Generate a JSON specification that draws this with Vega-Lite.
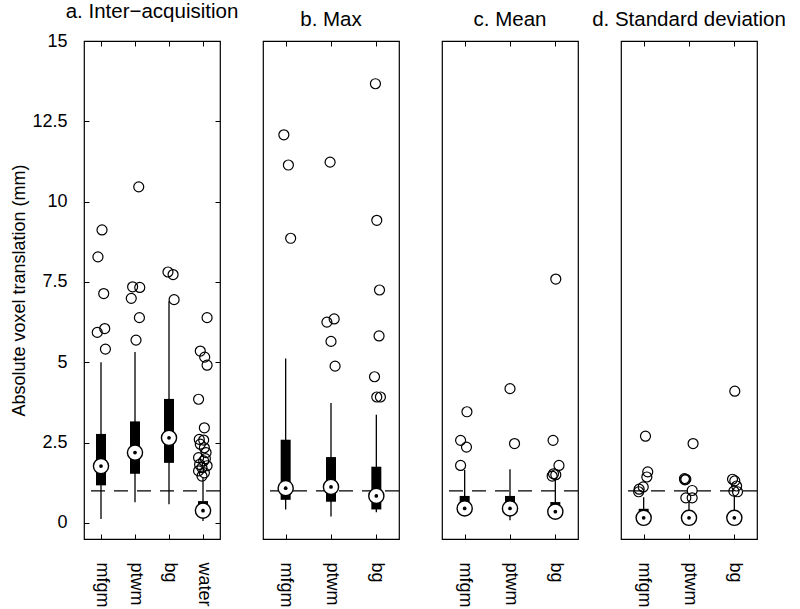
{
  "$schema": "https://vega.github.io/schema/vega-lite/v6.json",
  "background": "white",
  "padding": {"left": 10, "top": 0, "right": 5, "bottom": 5},
  "bounds": "flush",
  "spacing": 43,
  "config": {
    "font": "Liberation Sans",
    "view": {"stroke": "black", "strokeWidth": 1.2},
    "axis": {"labelFontSize": 18, "labelColor": "black", "labelFont": "Liberation Sans", "tickColor": "black", "tickSize": -5, "tickWidth": 1, "grid": false, "domain": false, "titleFont": "Liberation Sans", "titleFontSize": 18, "titleFontWeight": "normal", "titleColor": "black", "labelPadding": 22},
    "axisX": {"labelPadding": 28},
    "title": {"fontSize": 20.5, "fontWeight": "normal", "font": "Liberation Sans", "color": "black", "offset": 10}
  },
  "datasets": {
    "ref": [{"panel": "a", "y": 1}, {"panel": "b", "y": 1}, {"panel": "c", "y": 1}, {"panel": "d", "y": 1}],
    "boxes": [
      {"panel": "a", "group": "mfgm", "g": 1, "lo": 0.12, "q1": 1.17, "med": 1.77, "q3": 2.77, "hi": 5.0},
      {"panel": "a", "group": "ptwm", "g": 2, "lo": 0.64, "q1": 1.53, "med": 2.19, "q3": 3.16, "hi": 5.32},
      {"panel": "a", "group": "bg", "g": 3, "lo": 0.58, "q1": 1.87, "med": 2.65, "q3": 3.86, "hi": 6.9},
      {"panel": "a", "group": "water", "g": 4, "lo": 0.06, "q1": 0.25, "med": 0.38, "q3": 0.68, "hi": 1.4},
      {"panel": "b", "group": "mfgm", "g": 1, "lo": 0.42, "q1": 0.72, "med": 1.08, "q3": 2.59, "hi": 5.12},
      {"panel": "b", "group": "ptwm", "g": 2, "lo": 0.2, "q1": 0.66, "med": 1.12, "q3": 2.05, "hi": 3.73},
      {"panel": "b", "group": "bg", "g": 3, "lo": 0.33, "q1": 0.42, "med": 0.84, "q3": 1.75, "hi": 3.37},
      {"panel": "c", "group": "mfgm", "g": 1, "lo": 0.25, "q1": 0.3, "med": 0.45, "q3": 0.84, "hi": 1.65},
      {"panel": "c", "group": "ptwm", "g": 2, "lo": 0.08, "q1": 0.3, "med": 0.45, "q3": 0.84, "hi": 1.67},
      {"panel": "c", "group": "bg", "g": 3, "lo": 0.2, "q1": 0.25, "med": 0.35, "q3": 0.65, "hi": 1.41},
      {"panel": "d", "group": "mfgm", "g": 1, "lo": 0.1, "q1": 0.12, "med": 0.16, "q3": 0.44, "hi": 0.8},
      {"panel": "d", "group": "ptwm", "g": 2, "lo": 0.1, "q1": 0.12, "med": 0.16, "q3": 0.3, "hi": 0.7},
      {"panel": "d", "group": "bg", "g": 3, "lo": 0.1, "q1": 0.12, "med": 0.16, "q3": 0.3, "hi": 0.84}
    ],
    "outliers": [
      {"panel": "a", "x": 1.03, "v": 9.12}, {"panel": "a", "x": 0.91, "v": 8.28}, {"panel": "a", "x": 1.08, "v": 7.14}, {"panel": "a", "x": 1.11, "v": 6.05}, {"panel": "a", "x": 0.89, "v": 5.93}, {"panel": "a", "x": 1.13, "v": 5.41},
      {"panel": "a", "x": 2.11, "v": 10.46}, {"panel": "a", "x": 1.93, "v": 7.35}, {"panel": "a", "x": 2.14, "v": 7.33}, {"panel": "a", "x": 1.89, "v": 6.99}, {"panel": "a", "x": 2.13, "v": 6.39}, {"panel": "a", "x": 2.03, "v": 5.69},
      {"panel": "a", "x": 2.97, "v": 7.81}, {"panel": "a", "x": 3.12, "v": 7.73}, {"panel": "a", "x": 3.15, "v": 6.95},
      {"panel": "a", "x": 4.12, "v": 6.39}, {"panel": "a", "x": 3.92, "v": 5.35}, {"panel": "a", "x": 4.05, "v": 5.16}, {"panel": "a", "x": 4.12, "v": 4.91}, {"panel": "a", "x": 3.87, "v": 3.85}, {"panel": "a", "x": 4.04, "v": 2.96}, {"panel": "a", "x": 3.89, "v": 2.6}, {"panel": "a", "x": 4.02, "v": 2.58}, {"panel": "a", "x": 3.92, "v": 2.45}, {"panel": "a", "x": 4.04, "v": 2.34}, {"panel": "a", "x": 4.09, "v": 2.19}, {"panel": "a", "x": 3.87, "v": 2.03}, {"panel": "a", "x": 4.07, "v": 2.0}, {"panel": "a", "x": 4.02, "v": 1.93}, {"panel": "a", "x": 3.9, "v": 1.82}, {"panel": "a", "x": 4.12, "v": 1.78}, {"panel": "a", "x": 3.97, "v": 1.72}, {"panel": "a", "x": 3.87, "v": 1.62}, {"panel": "a", "x": 4.04, "v": 1.56}, {"panel": "a", "x": 3.97, "v": 1.46},
      {"panel": "b", "x": 0.96, "v": 12.08}, {"panel": "b", "x": 1.06, "v": 11.14}, {"panel": "b", "x": 1.11, "v": 8.86},
      {"panel": "b", "x": 1.98, "v": 11.23}, {"panel": "b", "x": 2.07, "v": 6.35}, {"panel": "b", "x": 1.91, "v": 6.25}, {"panel": "b", "x": 2.0, "v": 5.65}, {"panel": "b", "x": 2.09, "v": 4.88},
      {"panel": "b", "x": 2.98, "v": 13.67}, {"panel": "b", "x": 3.01, "v": 9.42}, {"panel": "b", "x": 3.07, "v": 7.25}, {"panel": "b", "x": 3.06, "v": 5.82}, {"panel": "b", "x": 2.96, "v": 4.55}, {"panel": "b", "x": 3.01, "v": 3.92}, {"panel": "b", "x": 3.09, "v": 3.92},
      {"panel": "c", "x": 1.05, "v": 3.46}, {"panel": "c", "x": 0.91, "v": 2.57}, {"panel": "c", "x": 1.04, "v": 2.36}, {"panel": "c", "x": 0.91, "v": 1.79},
      {"panel": "c", "x": 2.0, "v": 4.18}, {"panel": "c", "x": 2.1, "v": 2.47},
      {"panel": "c", "x": 3.01, "v": 7.59}, {"panel": "c", "x": 2.95, "v": 2.57}, {"panel": "c", "x": 3.08, "v": 1.79}, {"panel": "c", "x": 2.96, "v": 1.53}, {"panel": "c", "x": 3.01, "v": 1.5}, {"panel": "c", "x": 2.93, "v": 1.46},
      {"panel": "d", "x": 1.04, "v": 2.7}, {"panel": "d", "x": 1.09, "v": 1.59}, {"panel": "d", "x": 1.07, "v": 1.43}, {"panel": "d", "x": 0.99, "v": 1.12}, {"panel": "d", "x": 0.9, "v": 1.05}, {"panel": "d", "x": 0.89, "v": 0.97},
      {"panel": "d", "x": 2.09, "v": 2.47}, {"panel": "d", "x": 1.9, "v": 1.38}, {"panel": "d", "x": 1.93, "v": 1.36}, {"panel": "d", "x": 1.91, "v": 1.34}, {"panel": "d", "x": 2.07, "v": 1.01}, {"panel": "d", "x": 1.93, "v": 0.78}, {"panel": "d", "x": 2.07, "v": 0.78},
      {"panel": "d", "x": 3.01, "v": 4.1}, {"panel": "d", "x": 2.96, "v": 1.36}, {"panel": "d", "x": 3.01, "v": 1.31}, {"panel": "d", "x": 3.05, "v": 1.15}, {"panel": "d", "x": 2.99, "v": 0.99}, {"panel": "d", "x": 3.07, "v": 0.97}
    ]
  },
  "resolve": {"scale": {"x": "independent", "y": "independent"}, "axis": {"x": "independent", "y": "independent"}},
  "hconcat": [
    {
      "width": 136, "height": 498,
      "title": "a. Inter−acquisition",
      "resolve": {"axis": {"x": "independent", "y": "independent"}},
      "layer": [
        {"data": {"name": "ref"}, "transform": [{"filter": "datum.panel == 'a'"}],
         "mark": {"type": "rule", "strokeDash": [14, 9], "strokeWidth": 1.2, "color": "black"},
         "encoding": {"y": {"field": "y", "type": "quantitative", "scale": {"domain": [-0.5, 15], "nice": false, "zero": false}, "axis": null}}},
        {"data": {"name": "boxes"}, "transform": [{"filter": "datum.panel == 'a'"}],
         "mark": {"type": "rule", "strokeWidth": 1.3, "color": "black"},
         "encoding": {
           "x": {"field": "g", "type": "quantitative", "scale": {"domain": [0.5, 4.5], "nice": false, "zero": false}, "axis": {"orient": "bottom", "values": [1, 2, 3, 4], "labelExpr": "['', 'mfgm', 'ptwm', 'bg', 'water'][datum.value]", "labelAngle": 90, "title": null}},
           "y": {"field": "lo", "type": "quantitative", "scale": {"domain": [-0.5, 15], "nice": false, "zero": false}, "axis": {"orient": "left", "values": [0, 2.5, 5, 7.5, 10, 12.5, 15], "format": ".1~f", "title": "Absolute voxel translation (mm)", "titlePadding": 3}},
           "y2": {"field": "hi"}}},
        {"data": {"name": "boxes"}, "transform": [{"filter": "datum.panel == 'a'"}],
         "mark": {"type": "rule", "strokeWidth": 10, "color": "black"},
         "encoding": {
           "x": {"field": "g", "type": "quantitative", "axis": {"orient": "top", "values": [1, 2, 3, 4], "labels": false, "title": null}},
           "y": {"field": "q1", "type": "quantitative", "axis": {"orient": "right", "values": [0, 2.5, 5, 7.5, 10, 12.5, 15], "labels": false, "title": null}},
           "y2": {"field": "q3"}}},
        {"data": {"name": "boxes"}, "transform": [{"filter": "datum.panel == 'a'"}],
         "mark": {"type": "point", "shape": "circle", "filled": true, "fill": "white", "stroke": "black", "strokeWidth": 1.4, "size": 230, "opacity": 1},
         "encoding": {"x": {"field": "g", "type": "quantitative", "axis": null}, "y": {"field": "med", "type": "quantitative", "axis": null}}},
        {"data": {"name": "boxes"}, "transform": [{"filter": "datum.panel == 'a'"}],
         "mark": {"type": "point", "shape": "circle", "filled": true, "color": "black", "size": 14, "opacity": 1},
         "encoding": {"x": {"field": "g", "type": "quantitative", "axis": null}, "y": {"field": "med", "type": "quantitative", "axis": null}}},
        {"data": {"name": "outliers"}, "transform": [{"filter": "datum.panel == 'a'"}],
         "mark": {"type": "point", "shape": "circle", "filled": false, "color": "black", "strokeWidth": 1.2, "size": 100, "opacity": 1},
         "encoding": {"x": {"field": "x", "type": "quantitative", "axis": null}, "y": {"field": "v", "type": "quantitative", "axis": null}}}
      ]
    },
    {
      "width": 136, "height": 498,
      "title": "b. Max",
      "resolve": {"axis": {"x": "independent", "y": "independent"}},
      "layer": [
        {"data": {"name": "ref"}, "transform": [{"filter": "datum.panel == 'b'"}],
         "mark": {"type": "rule", "strokeDash": [14, 9], "strokeWidth": 1.2, "color": "black"},
         "encoding": {"y": {"field": "y", "type": "quantitative", "scale": {"domain": [-0.5, 15], "nice": false, "zero": false}, "axis": null}}},
        {"data": {"name": "boxes"}, "transform": [{"filter": "datum.panel == 'b'"}],
         "mark": {"type": "rule", "strokeWidth": 1.3, "color": "black"},
         "encoding": {
           "x": {"field": "g", "type": "quantitative", "scale": {"domain": [0.5, 3.5], "nice": false, "zero": false}, "axis": {"orient": "bottom", "values": [1, 2, 3], "labelExpr": "['', 'mfgm', 'ptwm', 'bg'][datum.value]", "labelAngle": 90, "title": null}},
           "y": {"field": "lo", "type": "quantitative", "scale": {"domain": [-0.5, 15], "nice": false, "zero": false}, "axis": null},
           "y2": {"field": "hi"}}},
        {"data": {"name": "boxes"}, "transform": [{"filter": "datum.panel == 'b'"}],
         "mark": {"type": "rule", "strokeWidth": 10, "color": "black"},
         "encoding": {
           "x": {"field": "g", "type": "quantitative", "axis": {"orient": "top", "values": [1, 2, 3], "labels": false, "title": null}},
           "y": {"field": "q1", "type": "quantitative", "axis": null},
           "y2": {"field": "q3"}}},
        {"data": {"name": "boxes"}, "transform": [{"filter": "datum.panel == 'b'"}],
         "mark": {"type": "point", "shape": "circle", "filled": true, "fill": "white", "stroke": "black", "strokeWidth": 1.4, "size": 230, "opacity": 1},
         "encoding": {"x": {"field": "g", "type": "quantitative", "axis": null}, "y": {"field": "med", "type": "quantitative", "axis": null}}},
        {"data": {"name": "boxes"}, "transform": [{"filter": "datum.panel == 'b'"}],
         "mark": {"type": "point", "shape": "circle", "filled": true, "color": "black", "size": 14, "opacity": 1},
         "encoding": {"x": {"field": "g", "type": "quantitative", "axis": null}, "y": {"field": "med", "type": "quantitative", "axis": null}}},
        {"data": {"name": "outliers"}, "transform": [{"filter": "datum.panel == 'b'"}],
         "mark": {"type": "point", "shape": "circle", "filled": false, "color": "black", "strokeWidth": 1.2, "size": 100, "opacity": 1},
         "encoding": {"x": {"field": "x", "type": "quantitative", "axis": null}, "y": {"field": "v", "type": "quantitative", "axis": null}}}
      ]
    },
    {
      "width": 136, "height": 498,
      "title": "c. Mean",
      "resolve": {"axis": {"x": "independent", "y": "independent"}},
      "layer": [
        {"data": {"name": "ref"}, "transform": [{"filter": "datum.panel == 'c'"}],
         "mark": {"type": "rule", "strokeDash": [14, 9], "strokeWidth": 1.2, "color": "black"},
         "encoding": {"y": {"field": "y", "type": "quantitative", "scale": {"domain": [-0.5, 15], "nice": false, "zero": false}, "axis": null}}},
        {"data": {"name": "boxes"}, "transform": [{"filter": "datum.panel == 'c'"}],
         "mark": {"type": "rule", "strokeWidth": 1.3, "color": "black"},
         "encoding": {
           "x": {"field": "g", "type": "quantitative", "scale": {"domain": [0.5, 3.5], "nice": false, "zero": false}, "axis": {"orient": "bottom", "values": [1, 2, 3], "labelExpr": "['', 'mfgm', 'ptwm', 'bg'][datum.value]", "labelAngle": 90, "title": null}},
           "y": {"field": "lo", "type": "quantitative", "scale": {"domain": [-0.5, 15], "nice": false, "zero": false}, "axis": null},
           "y2": {"field": "hi"}}},
        {"data": {"name": "boxes"}, "transform": [{"filter": "datum.panel == 'c'"}],
         "mark": {"type": "rule", "strokeWidth": 10, "color": "black"},
         "encoding": {
           "x": {"field": "g", "type": "quantitative", "axis": {"orient": "top", "values": [1, 2, 3], "labels": false, "title": null}},
           "y": {"field": "q1", "type": "quantitative", "axis": null},
           "y2": {"field": "q3"}}},
        {"data": {"name": "boxes"}, "transform": [{"filter": "datum.panel == 'c'"}],
         "mark": {"type": "point", "shape": "circle", "filled": true, "fill": "white", "stroke": "black", "strokeWidth": 1.4, "size": 230, "opacity": 1},
         "encoding": {"x": {"field": "g", "type": "quantitative", "axis": null}, "y": {"field": "med", "type": "quantitative", "axis": null}}},
        {"data": {"name": "boxes"}, "transform": [{"filter": "datum.panel == 'c'"}],
         "mark": {"type": "point", "shape": "circle", "filled": true, "color": "black", "size": 14, "opacity": 1},
         "encoding": {"x": {"field": "g", "type": "quantitative", "axis": null}, "y": {"field": "med", "type": "quantitative", "axis": null}}},
        {"data": {"name": "outliers"}, "transform": [{"filter": "datum.panel == 'c'"}],
         "mark": {"type": "point", "shape": "circle", "filled": false, "color": "black", "strokeWidth": 1.2, "size": 100, "opacity": 1},
         "encoding": {"x": {"field": "x", "type": "quantitative", "axis": null}, "y": {"field": "v", "type": "quantitative", "axis": null}}}
      ]
    },
    {
      "width": 136, "height": 498,
      "title": "d. Standard deviation",
      "resolve": {"axis": {"x": "independent", "y": "independent"}},
      "layer": [
        {"data": {"name": "ref"}, "transform": [{"filter": "datum.panel == 'd'"}],
         "mark": {"type": "rule", "strokeDash": [14, 9], "strokeWidth": 1.2, "color": "black"},
         "encoding": {"y": {"field": "y", "type": "quantitative", "scale": {"domain": [-0.5, 15], "nice": false, "zero": false}, "axis": null}}},
        {"data": {"name": "boxes"}, "transform": [{"filter": "datum.panel == 'd'"}],
         "mark": {"type": "rule", "strokeWidth": 1.3, "color": "black"},
         "encoding": {
           "x": {"field": "g", "type": "quantitative", "scale": {"domain": [0.5, 3.5], "nice": false, "zero": false}, "axis": {"orient": "bottom", "values": [1, 2, 3], "labelExpr": "['', 'mfgm', 'ptwm', 'bg'][datum.value]", "labelAngle": 90, "title": null}},
           "y": {"field": "lo", "type": "quantitative", "scale": {"domain": [-0.5, 15], "nice": false, "zero": false}, "axis": null},
           "y2": {"field": "hi"}}},
        {"data": {"name": "boxes"}, "transform": [{"filter": "datum.panel == 'd'"}],
         "mark": {"type": "rule", "strokeWidth": 10, "color": "black"},
         "encoding": {
           "x": {"field": "g", "type": "quantitative", "axis": {"orient": "top", "values": [1, 2, 3], "labels": false, "title": null}},
           "y": {"field": "q1", "type": "quantitative", "axis": null},
           "y2": {"field": "q3"}}},
        {"data": {"name": "boxes"}, "transform": [{"filter": "datum.panel == 'd'"}],
         "mark": {"type": "point", "shape": "circle", "filled": true, "fill": "white", "stroke": "black", "strokeWidth": 1.4, "size": 230, "opacity": 1},
         "encoding": {"x": {"field": "g", "type": "quantitative", "axis": null}, "y": {"field": "med", "type": "quantitative", "axis": null}}},
        {"data": {"name": "boxes"}, "transform": [{"filter": "datum.panel == 'd'"}],
         "mark": {"type": "point", "shape": "circle", "filled": true, "color": "black", "size": 14, "opacity": 1},
         "encoding": {"x": {"field": "g", "type": "quantitative", "axis": null}, "y": {"field": "med", "type": "quantitative", "axis": null}}},
        {"data": {"name": "outliers"}, "transform": [{"filter": "datum.panel == 'd'"}],
         "mark": {"type": "point", "shape": "circle", "filled": false, "color": "black", "strokeWidth": 1.2, "size": 100, "opacity": 1},
         "encoding": {"x": {"field": "x", "type": "quantitative", "axis": null}, "y": {"field": "v", "type": "quantitative", "axis": null}}}
      ]
    }
  ]
}
